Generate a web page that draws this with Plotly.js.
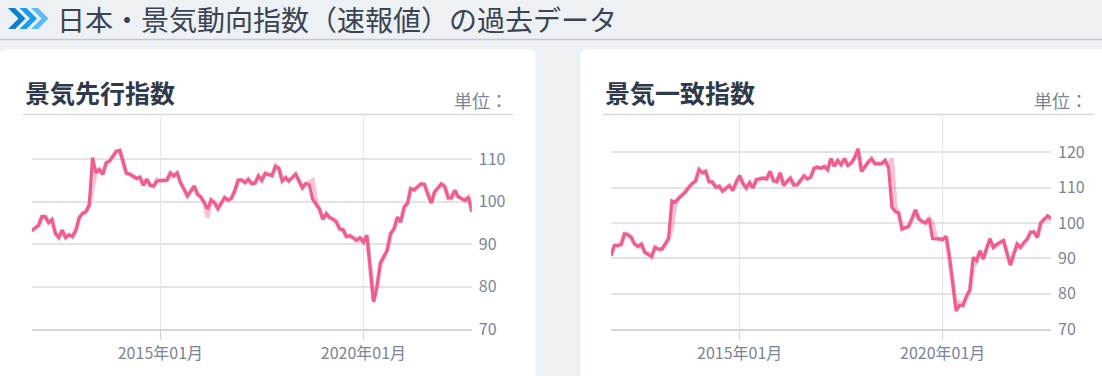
<!DOCTYPE html>
<html>
<head>
<meta charset="utf-8">
<script src="https://cdn.plot.ly/plotly-3.0.1.min.js"></script>
<style>
  html, body { margin: 0; padding: 0; background: #eef1f4; }
  #chart { width: 1102px; height: 376px; }
</style>
</head>
<body>
<div id="chart"></div>
<script>
// ---------- data ----------
const startMonth = '2011-11';   // first month shown
const monthCount = 131;          // 2011-11 .. 2022-09

const pageTitle = '日本・景気動向指数（速報値）の過去データ';
const leadTitle = '景気先行指数';
const coinTitle = '景気一致指数';
const unitLabel = '単位：';

const xTickVals = ['2015-01-01', '2020-01-01'];
const xTickText = ['2015年01月', '2020年01月'];
const leadTicks = [70, 80, 90, 100, 110];
const coinTicks = [70, 80, 90, 100, 110, 120];

// 景気先行指数 (main line)
const leadMain = [
  93.2,93.8,94.4,96.5,96.5,95.1,95.8,92.6,91.6,93.3,
  91.6,92.2,91.8,93.2,96.2,97.3,97.6,99.2,110.4,106.8,
  107.6,106.5,109.2,109.6,110.8,111.9,112.1,109.5,106.8,106.5,
  106.0,105.5,105.8,103.9,105.3,103.9,103.7,104.9,105.0,105.0,
  105.1,106.8,106.1,106.8,104.5,103.0,101.4,102.5,103.7,101.8,
  101.1,99.7,98.3,100.4,99.8,98.4,99.6,101.0,100.4,100.8,
  102.7,105.1,105.1,104.5,105.3,104.3,104.4,106.1,105.1,106.7,
  106.4,106.2,108.4,107.9,104.9,105.7,104.9,105.7,106.5,104.9,
  103.3,104.3,104.0,100.6,99.4,98.3,95.9,97.2,96.3,95.9,
  95.3,93.6,93.4,91.8,92.0,91.5,90.9,91.5,90.5,92.1,
  84.3,76.4,79.9,85.5,87.0,88.5,92.5,93.6,96.4,95.2,
  98.7,99.7,103.1,102.8,103.5,104.2,104.1,102.0,99.7,102.3,
  103.3,104.2,103.6,100.9,100.9,102.7,101.2,100.8,100.3,101.1,
  97.6
];
// 景気先行指数 (faint line behind)
const leadSub = [
  93.2,93.8,94.4,96.5,96.5,95.1,95.8,92.6,91.6,93.3,
  91.6,92.2,91.8,93.2,96.2,97.3,97.6,99.2,103.5,107.5,
  107.6,106.5,109.2,109.6,110.8,111.9,112.1,109.5,106.8,106.5,
  106.0,105.5,105.8,103.9,105.3,103.9,103.7,105.3,105.0,105.0,
  105.1,106.8,106.1,106.8,104.5,103.0,101.4,102.5,103.7,101.8,
  101.1,99.7,96.3,100.4,99.8,98.4,99.6,101.0,100.4,100.8,
  102.7,105.1,105.1,104.5,105.3,104.3,104.4,106.1,105.1,106.7,
  106.4,106.2,108.4,107.9,104.9,105.7,104.9,105.7,106.5,104.9,
  103.3,104.3,104.5,105.0,99.8,98.3,95.9,97.2,96.3,95.9,
  95.3,93.6,93.4,91.8,92.0,91.5,90.9,91.5,90.5,92.1,
  84.3,76.6,79.9,85.5,87.0,88.5,92.5,93.6,95.8,95.6,
  98.7,99.7,103.1,102.8,103.5,104.2,104.1,102.0,99.7,102.3,
  103.3,104.2,103.6,100.9,100.9,102.7,101.2,100.8,100.3,101.1,
  98.6
];
// 景気一致指数 (main line)
const coinMain = [
  90.7,93.6,93.6,94.0,96.9,96.7,95.9,94.0,93.4,94.0,
  91.7,91.2,90.5,93.1,92.6,92.6,93.8,95.5,106.3,105.9,
  107.0,108.0,108.7,110.1,111.2,111.9,115.1,114.2,114.6,111.7,
  111.6,110.1,110.4,109.0,109.9,110.6,109.2,111.6,113.4,111.1,
  109.9,111.4,109.9,112.3,112.5,112.7,112.5,114.6,112.0,111.7,
  114.2,110.6,111.7,112.7,110.8,110.8,112.0,113.3,112.5,113.0,
  115.5,115.8,115.5,116.0,115.1,118.2,116.1,117.7,116.5,118.2,
  116.3,117.0,118.5,121.0,114.6,116.1,117.2,118.2,116.8,116.8,
  116.8,117.7,115.8,104.5,103.2,102.8,98.3,98.7,99.1,101.3,
  103.7,101.1,100.4,100.0,101.3,95.6,95.6,95.5,95.3,96.2,
  90.7,83.0,75.1,76.7,76.7,79.3,81.0,90.3,89.3,92.1,
  89.8,93.0,95.6,93.1,94.0,94.5,95.0,91.5,88.1,91.2,
  94.0,93.1,94.5,95.5,97.4,97.5,95.9,100.0,101.0,102.1,
  101.3
];
// 景気一致指数 (faint line behind)
const coinSub = [
  90.7,93.6,93.6,94.0,96.9,96.7,95.9,94.0,93.4,94.0,
  91.7,91.4,90.5,93.1,92.6,92.6,93.8,95.5,98.5,105.5,
  107.0,108.0,108.7,110.1,111.2,111.9,115.1,114.2,114.6,111.7,
  111.6,110.1,110.4,109.0,109.9,110.6,109.2,111.6,113.4,111.1,
  109.9,111.4,109.9,112.3,112.5,112.7,112.5,114.6,112.0,111.7,
  114.2,110.6,111.7,112.7,110.8,110.8,112.0,113.3,112.5,113.0,
  115.5,115.8,115.5,116.0,115.1,118.2,116.1,117.7,116.5,118.2,
  116.3,117.0,118.5,121.0,114.6,116.1,117.2,118.2,116.8,116.8,
  116.8,117.7,115.8,118.3,104.5,102.8,98.3,98.7,99.1,101.3,
  103.7,101.1,100.4,100.0,101.3,100.0,95.6,95.5,95.3,96.2,
  90.7,83.0,76.0,77.5,76.7,79.3,81.0,87.5,89.3,92.1,
  89.8,93.0,94.8,93.1,94.0,94.5,95.0,91.5,88.1,91.2,
  94.0,93.1,94.5,95.5,97.4,97.5,95.9,100.0,101.0,101.3,
  101.0
];

// ---------- helpers ----------
const W = 1102, H = 376;
const X = px => px / W;
const Y = py => 1 - py / H;

function monthDates(start, n) {
  const [y0, m0] = start.split('-').map(Number);
  const out = [];
  for (let i = 0; i < n; i++) {
    const t = (m0 - 1) + i;
    const y = y0 + Math.floor(t / 12);
    const m = (t % 12) + 1;
    out.push(y + '-' + String(m).padStart(2, '0') + '-01');
  }
  return out;
}
const dates = monthDates(startMonth, monthCount);

const mainColor = '#ef5d8d';
const subColor = 'rgba(242,120,160,0.45)';

function lines(xa, ya, mainVals, subVals) {
  return [
    { x: dates, y: subVals, xaxis: xa, yaxis: ya, type: 'scatter', mode: 'lines',
      line: { color: subColor, width: 4.5, shape: 'linear' }, hoverinfo: 'skip', showlegend: false },
    { x: dates, y: mainVals, xaxis: xa, yaxis: ya, type: 'scatter', mode: 'lines',
      line: { color: mainColor, width: 3.2, shape: 'linear' }, hoverinfo: 'skip', showlegend: false }
  ];
}

const traces = [
  ...lines('x', 'y', leadMain, leadSub),
  ...lines('x2', 'y2', coinMain, coinSub)
];

const FONT = '"Noto Sans CJK JP", "Noto Sans", sans-serif';
const tickFont = { family: FONT, size: 16, color: '#7b8494' };

function xAxis(domain, anchor) {
  return {
    domain: domain, anchor: anchor, type: 'date',
    range: [dates[0], dates[dates.length - 1]],
    tickmode: 'array', tickvals: xTickVals, ticktext: xTickText,
    showgrid: true, gridcolor: '#e4e4e4', gridwidth: 1.5,
    ticks: 'outside', ticklen: 9, tickwidth: 1.5, tickcolor: '#c9d5ea',
    showline: true, linecolor: '#d6d6d6', linewidth: 2,
    zeroline: false, tickfont: tickFont, fixedrange: true
  };
}
function yAxis(domain, anchor, range, ticks) {
  return {
    domain: domain, anchor: anchor, side: 'right', range: range,
    tickmode: 'array', tickvals: ticks, ticktext: ticks.map(String),
    showgrid: true, gridcolor: '#e4e4e4', gridwidth: 2,
    ticks: '', showline: false, zeroline: false,
    ticklabelstandoff: 6,
    tickfont: tickFont, fixedrange: true
  };
}

const yDom = [Y(329), Y(117)];

// rounded-top card path (pixel coords -> paper)
function card(x0, y0, x1, y1, r) {
  return 'M ' + X(x0) + ',' + Y(y1) +
    ' L ' + X(x0) + ',' + Y(y0 + r) +
    ' Q ' + X(x0) + ',' + Y(y0) + ' ' + X(x0 + r) + ',' + Y(y0) +
    ' L ' + X(x1 - r) + ',' + Y(y0) +
    ' Q ' + X(x1) + ',' + Y(y0) + ' ' + X(x1) + ',' + Y(y0 + r) +
    ' L ' + X(x1) + ',' + Y(y1) + ' Z';
}
function chevron(a, t, h, d) {
  const pts = [[a, t], [a + d, t], [a + d + h / 2, t + h / 2], [a + d, t + h], [a, t + h], [a + h / 2, t + h / 2]];
  return 'M ' + pts.map(p => X(p[0]) + ',' + Y(p[1])).join(' L ') + ' Z';
}

const shapes = [
  { type: 'path', xref: 'paper', yref: 'paper', path: card(0, 49, 535.5, 400, 7), fillcolor: '#ffffff', line: { width: 0 }, layer: 'below' },
  { type: 'path', xref: 'paper', yref: 'paper', path: card(580.5, 49, 1120, 400, 7), fillcolor: '#ffffff', line: { width: 0 }, layer: 'below' },
  { type: 'line', xref: 'paper', yref: 'paper', x0: 0, x1: 1, y0: Y(39.5), y1: Y(39.5), line: { color: '#c4c9cf', width: 1.5 }, layer: 'below' },
  { type: 'line', xref: 'paper', yref: 'paper', x0: X(23), x1: X(513), y0: Y(114.5), y1: Y(114.5), line: { color: '#d5d8dc', width: 1.5 } },
  { type: 'line', xref: 'paper', yref: 'paper', x0: X(603), x1: X(1094), y0: Y(114.5), y1: Y(114.5), line: { color: '#d5d8dc', width: 1.5 } },
  { type: 'path', xref: 'paper', yref: 'paper', path: chevron(8, 8, 21, 7), fillcolor: '#0a7ed4', line: { width: 0 } },
  { type: 'path', xref: 'paper', yref: 'paper', path: chevron(19.5, 8, 21, 7), fillcolor: '#1d9bf0', line: { width: 0 } },
  { type: 'path', xref: 'paper', yref: 'paper', path: chevron(31, 8, 21, 7), fillcolor: '#5cbaf7', line: { width: 0 } }
];

const annotations = [
  { text: pageTitle, xref: 'paper', yref: 'paper', x: X(55), y: Y(19), xanchor: 'left', yanchor: 'middle',
    showarrow: false, font: { family: FONT, size: 28, color: '#3a4453' } },
  { text: '<b>' + leadTitle + '</b>', xref: 'paper', yref: 'paper', x: X(23), y: Y(92), xanchor: 'left', yanchor: 'middle',
    showarrow: false, font: { family: FONT, size: 25, color: '#2e3a4b' } },
  { text: '<b>' + coinTitle + '</b>', xref: 'paper', yref: 'paper', x: X(603), y: Y(92), xanchor: 'left', yanchor: 'middle',
    showarrow: false, font: { family: FONT, size: 25, color: '#2e3a4b' } },
  { text: unitLabel, xref: 'paper', yref: 'paper', x: X(510), y: Y(100), xanchor: 'right', yanchor: 'middle',
    showarrow: false, font: { family: FONT, size: 18, color: '#7d8593' } },
  { text: unitLabel, xref: 'paper', yref: 'paper', x: X(1090), y: Y(100), xanchor: 'right', yanchor: 'middle',
    showarrow: false, font: { family: FONT, size: 18, color: '#7d8593' } }
];

const layout = {
  width: W, height: H,
  margin: { l: 0, r: 0, t: 0, b: 0, pad: 0 },
  paper_bgcolor: '#eef1f4',
  plot_bgcolor: '#ffffff',
  showlegend: false,
  font: { family: FONT },
  xaxis: xAxis([X(31.7), X(471.8)], 'y'),
  yaxis: yAxis(yDom, 'x', [70, 120], leadTicks),
  xaxis2: xAxis([X(611), X(1051)], 'y2'),
  yaxis2: yAxis(yDom, 'x2', [70, 130], coinTicks),
  shapes: shapes,
  annotations: annotations
};

Plotly.newPlot('chart', traces, layout, { staticPlot: true, displayModeBar: false });
</script>
</body>
</html>
